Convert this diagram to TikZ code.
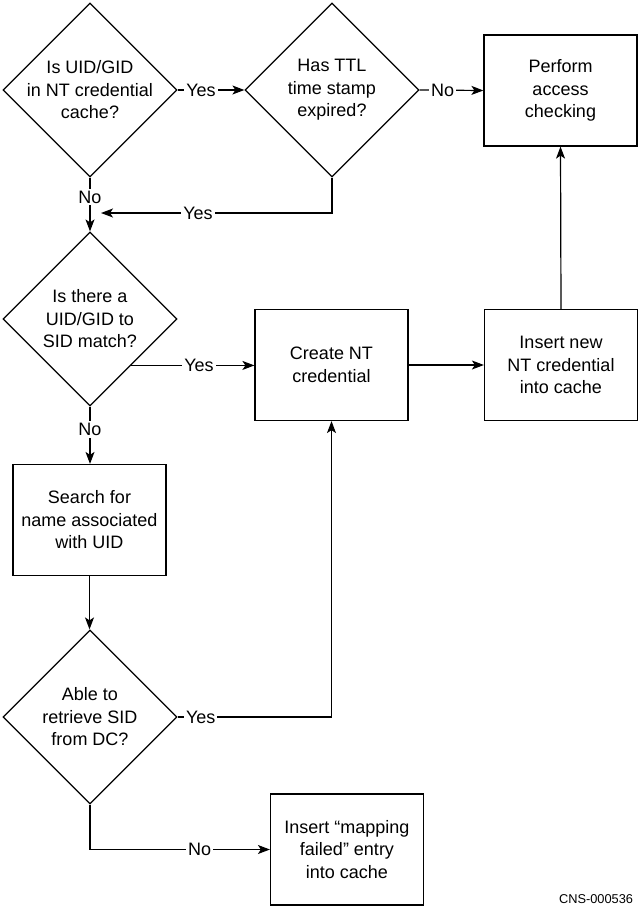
\documentclass[tikz,border=0pt]{standalone}
\usepackage{fontspec}
\setmainfont{Liberation Sans}
\usetikzlibrary{shapes.geometric,arrows.meta,calc}
\tikzset{
  every node/.style={font=\fontsize{18}{22.5}\selectfont},
  dec/.style={draw, diamond, minimum width=174pt, minimum height=174pt, inner sep=0pt},
  dtext/.style={label={[align=center]center:#1}},
  box/.style={draw, rectangle, minimum width=153pt, minimum height=111pt, inner sep=0pt, align=center},
  lab/.style={fill=white, inner sep=2pt},
  arr/.style={-{Stealth[length=12pt,width=9pt,inset=3pt]}}
}
\begin{document}
\begin{tikzpicture}[x=1pt,y=-1pt,line width=1.2pt]
\useasboundingbox (0,0) rectangle (638,907);
\node[dec, dtext={Is UID/GID\\in NT credential\\cache?}] (d1) at (90,90) {};
\node[dec, dtext={Has TTL\\time stamp\\expired?}] (d2) at (332,90) {};
\node[box] (check) at (560.5,90.5) {Perform\\access\\checking};
\node[dec, dtext={Is there a\\UID/GID to\\SID match?}] (d3) at (90,319) {};
\node[box] (create) at (331.5,365) {Create NT\\credential};
\node[box] (insert) at (561,365) {Insert new\\NT credential\\into cache};
\node[box] (search) at (89.5,520) {Search for\\name associated\\with UID};
\node[dec, dtext={Able to\\retrieve SID\\from DC?}] (d4) at (90,717) {};
\node[box] (fail) at (347,849.5) {Insert “mapping\\failed” entry\\into cache};
\node[anchor=east, font=\fontsize{12.8}{14}\selectfont] (code) at (637,899) {CNS-000536};

\coordinate (yesend) at (101,213);
\coordinate (d3y) at ($(d3.east)!0.53!(d3.south)$);

\draw[arr] (d1.east) -- node[lab,pos=0.35]{Yes} (d2.west);
\draw[arr] (d2.east) -- node[lab,pos=0.36]{No} (check.west);
\draw[arr] (d1.south) -- node[lab,pos=0.36]{No} (d3.north);
\draw[arr] (d2.south) |- node[lab,pos=0.79]{Yes} (yesend);
\draw[arr] (d3y) -- node[lab,pos=0.55]{Yes} (create.west |- d3y);
\draw[arr] (create.east |- insert.west) -- (insert.west);
\draw[arr] (insert.north) -- (check.south);
\draw[arr] (d3.south) -- node[lab,pos=0.4]{No} (d3.south |- search.north);
\draw[arr] (search.south) -- (search.south |- d4.north);
\draw[arr] (d4.east) -| node[lab,pos=0.075]{Yes} (create.south);
\draw[arr] (d4.south) |- node[lab,pos=0.805]{No} (fail.west);
\end{tikzpicture}
\end{document}
